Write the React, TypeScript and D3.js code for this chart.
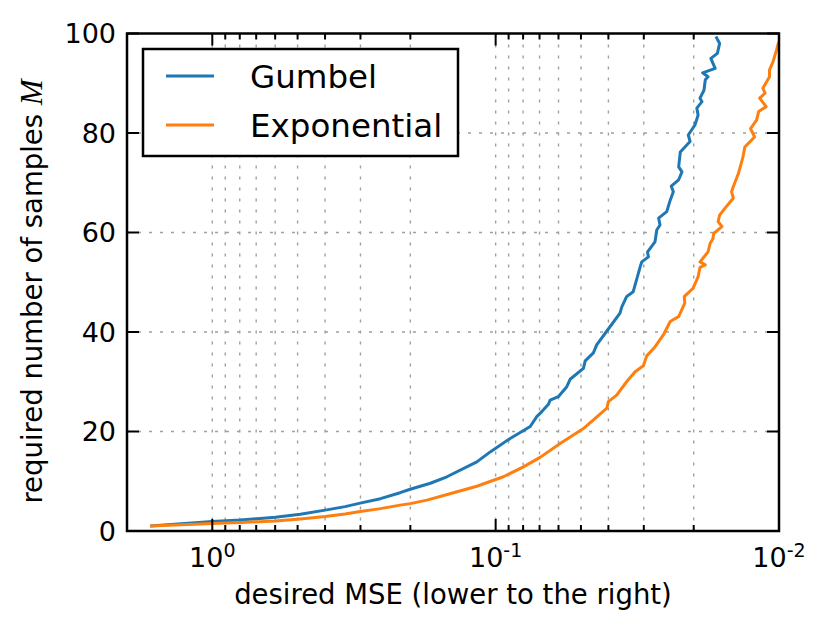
import React, { useEffect, useRef } from 'react'
import * as d3 from 'd3'

// values
const gumbelMse = [1.655, 1.0, 0.797, 0.599, 0.489, 0.3995, 0.34, 0.3006, 0.255, 0.2173, 0.2002, 0.17, 0.1486, 0.1165, 0.1045, 0.0889, 0.0755, 0.0716, 0.0687, 0.0651, 0.0642, 0.0601, 0.0561, 0.0546, 0.049, 0.0483, 0.0452, 0.044, 0.0405, 0.0364, 0.0359, 0.0345, 0.0327, 0.0309, 0.0305, 0.0289, 0.0291, 0.0274, 0.027, 0.0263, 0.0266, 0.0249, 0.0242, 0.0236, 0.024, 0.0226, 0.022, 0.0226, 0.0223, 0.0206, 0.0209, 0.0198, 0.0193, 0.0195, 0.0187, 0.019, 0.0184, 0.0182, 0.0178, 0.0186, 0.0168, 0.0174, 0.0165, 0.0162, 0.0167]
const gumbelM = [1, 1.9, 2.2, 2.75, 3.35, 4.2, 4.9, 5.6, 6.5, 7.7, 8.4, 9.6, 10.9, 13.9, 15.9, 18.6, 21, 23, 24, 25.5, 26.3, 27, 29, 30.5, 32.7, 34.2, 35.8, 37.4, 40.2, 43.8, 45, 47.1, 48.1, 53.1, 54.1, 55.1, 56.1, 58.1, 60.5, 61.5, 62.9, 64.2, 66.5, 68.2, 69.3, 70.6, 72.2, 73.2, 76.2, 78.3, 79.6, 81.6, 83.6, 85, 86.3, 87, 88.6, 90.7, 91.3, 92.1, 93, 95, 96, 98, 99.4]

const expMse = [1.655, 1.0, 0.797, 0.599, 0.489, 0.3995, 0.34, 0.3006, 0.255, 0.2173, 0.2002, 0.1748, 0.145, 0.1165, 0.0939, 0.0798, 0.0697, 0.0592, 0.049, 0.0405, 0.04, 0.0374, 0.0345, 0.0322, 0.0301, 0.0293, 0.0274, 0.0256, 0.0242, 0.0226, 0.0215, 0.0216, 0.0201, 0.0193, 0.019, 0.0182, 0.019, 0.0178, 0.0175, 0.0171, 0.017, 0.0159, 0.0164, 0.0162, 0.0155, 0.0145, 0.0147, 0.0145, 0.0139, 0.0134, 0.0132, 0.0122, 0.0126, 0.012, 0.0118, 0.0111, 0.0117, 0.0112, 0.0114, 0.0108, 0.0108, 0.0105, 0.0102, 0.01006, 0.00976]
const expM = [1, 1.5, 1.7, 2, 2.4, 2.9, 3.4, 3.9, 4.5, 5.2, 5.5, 6.2, 7.5, 9, 10.9, 12.9, 14.8, 17.6, 20.6, 24.7, 26, 27.3, 30, 32, 33.2, 35.2, 37, 39.4, 42.1, 43.1, 45.8, 47.1, 48.8, 51.1, 53, 53.5, 54.1, 56.1, 57.8, 58.8, 59.8, 61.2, 62.2, 63.5, 64.9, 66.9, 68.2, 69.2, 71.9, 75.2, 77.2, 79.2, 80.9, 82.6, 84.3, 85.3, 87, 88, 89, 91.3, 92.7, 94.3, 96.7, 98, 99.5]

const seriesNames = ['Gumbel', 'Exponential']
const seriesColors = ['#1f77b4', '#ff7f0e']
const yTicks = [0, 20, 40, 60, 80, 100]
const xMajor = [1, 0.1, 0.01]
const xMajorExp = ['0', '-1', '-2']
const xDomain = [2, 0.01]

const W = 829
const H = 633
const margin = { top: 33.5, right: 50, bottom: 102, left: 127 }
const FONT = 'DejaVu Sans, sans-serif'

const Chart = () => {
  const ref = useRef<SVGSVGElement>(null)

  useEffect(() => {
    const svg = d3.select(ref.current)
    svg.selectAll('*').remove()
    const w = W - margin.left - margin.right
    const h = H - margin.top - margin.bottom

    const x = d3.scaleLog().domain(xDomain).range([0, w])
    const y = d3.scaleLinear().domain([0, 100]).range([h, 0])

    const g = svg.append('g').attr('transform', `translate(${margin.left},${margin.top})`)

    g.append('clipPath').attr('id', 'plotclip').append('rect').attr('width', w).attr('height', h)

    // grid
    const allX = x.ticks().filter(t => t < 1.99 && t > 0.0101)
    g.append('g')
      .selectAll('line')
      .data(allX)
      .join('line')
      .attr('x1', d => x(d))
      .attr('x2', d => x(d))
      .attr('y1', 0)
      .attr('y2', h)
      .attr('stroke', '#a0a0a0')
      .attr('stroke-width', 1.4)
      .attr('stroke-dasharray', '3,8')
    g.append('g')
      .selectAll('line')
      .data(yTicks.slice(1, -1))
      .join('line')
      .attr('x1', 0)
      .attr('x2', w)
      .attr('y1', d => y(d))
      .attr('y2', d => y(d))
      .attr('stroke', '#a0a0a0')
      .attr('stroke-width', 1.4)
      .attr('stroke-dasharray', '3,8')

    // curves
    const series = [
      gumbelMse.map((v, i) => [v, gumbelM[i]]),
      expMse.map((v, i) => [v, expM[i]])
    ]
    const line = d3
      .line<number[]>()
      .x(d => x(d[0]))
      .y(d => y(d[1]))
    series.forEach((s, i) => {
      g.append('path')
        .attr('d', line(s))
        .attr('fill', 'none')
        .attr('stroke', seriesColors[i])
        .attr('stroke-width', 3)
        .attr('stroke-linejoin', 'round')
        .attr('clip-path', 'url(#plotclip)')
    })

    // ticks (pointing inward)
    const minorX = allX.filter(t => !xMajor.some(m => Math.abs(m - t) < 1e-9))
    const tickG = g.append('g').attr('stroke', '#000').attr('stroke-width', 2)
    const xTick = (vals: number[], len: number) => {
      vals.forEach(v => {
        tickG.append('line').attr('x1', x(v)).attr('x2', x(v)).attr('y1', h).attr('y2', h - len)
        tickG.append('line').attr('x1', x(v)).attr('x2', x(v)).attr('y1', 0).attr('y2', len)
      })
    }
    xTick(xMajor, 12)
    xTick(minorX, 6)
    yTicks.forEach(v => {
      tickG.append('line').attr('x1', 0).attr('x2', 12).attr('y1', y(v)).attr('y2', y(v))
      tickG.append('line').attr('x1', w).attr('x2', w - 12).attr('y1', y(v)).attr('y2', y(v))
    })

    // frame
    g.append('rect')
      .attr('width', w)
      .attr('height', h)
      .attr('fill', 'none')
      .attr('stroke', '#000')
      .attr('stroke-width', 2.5)

    // y tick labels
    g.append('g')
      .selectAll('text')
      .data(yTicks)
      .join('text')
      .attr('x', -11)
      .attr('y', d => y(d))
      .attr('dy', '0.36em')
      .attr('text-anchor', 'end')
      .attr('font-family', FONT)
      .attr('font-size', 27)
      .text(d => d)

    // x tick labels
    xMajor.forEach((v, i) => {
      const t = g
        .append('text')
        .attr('x', x(v))
        .attr('y', h + 36)
        .attr('text-anchor', 'middle')
        .attr('font-family', FONT)
        .attr('font-size', 27)
      t.append('tspan').text('10')
      t.append('tspan').attr('dy', -10).attr('font-size', 19).text(xMajorExp[i])
    })

    // axis labels
    g.append('text')
      .attr('x', w / 2)
      .attr('y', h + 73)
      .attr('text-anchor', 'middle')
      .attr('font-family', FONT)
      .attr('font-size', 27.5)
      .text('desired MSE (lower to the right)')

    const yl = svg
      .append('text')
      .attr('transform', 'translate(41.7,291.5) rotate(-90)')
      .attr('text-anchor', 'middle')
      .attr('font-family', FONT)
      .attr('font-size', 27.5)
    yl.append('tspan').text('required number of samples ')
    yl.append('tspan')
      .attr('font-family', 'Liberation Serif, serif')
      .attr('font-style', 'italic')
      .attr('font-size', 31)
      .text('M')

    // legend
    const lg = svg.append('g')
    lg.append('rect')
      .attr('x', 143)
      .attr('y', 49)
      .attr('width', 315)
      .attr('height', 107)
      .attr('fill', '#fff')
      .attr('stroke', '#000')
      .attr('stroke-width', 2.5)
    seriesNames.forEach((name, i) => {
      const cy = 76 + i * 49
      lg.append('line')
        .attr('x1', 166)
        .attr('x2', 214)
        .attr('y1', cy)
        .attr('y2', cy)
        .attr('stroke', seriesColors[i])
        .attr('stroke-width', 3)
      lg.append('text')
        .attr('x', 250)
        .attr('y', cy + 12)
        .attr('font-family', FONT)
        .attr('font-size', 32.5)
        .text(name)
    })
  }, [])

  return (
    <div style={{ position: 'absolute', left: 0, top: 0 }}>
      <svg ref={ref} width={W} height={H} style={{ display: 'block', background: '#fff' }} />
    </div>
  )
}

const App = () => <Chart />

export default App
